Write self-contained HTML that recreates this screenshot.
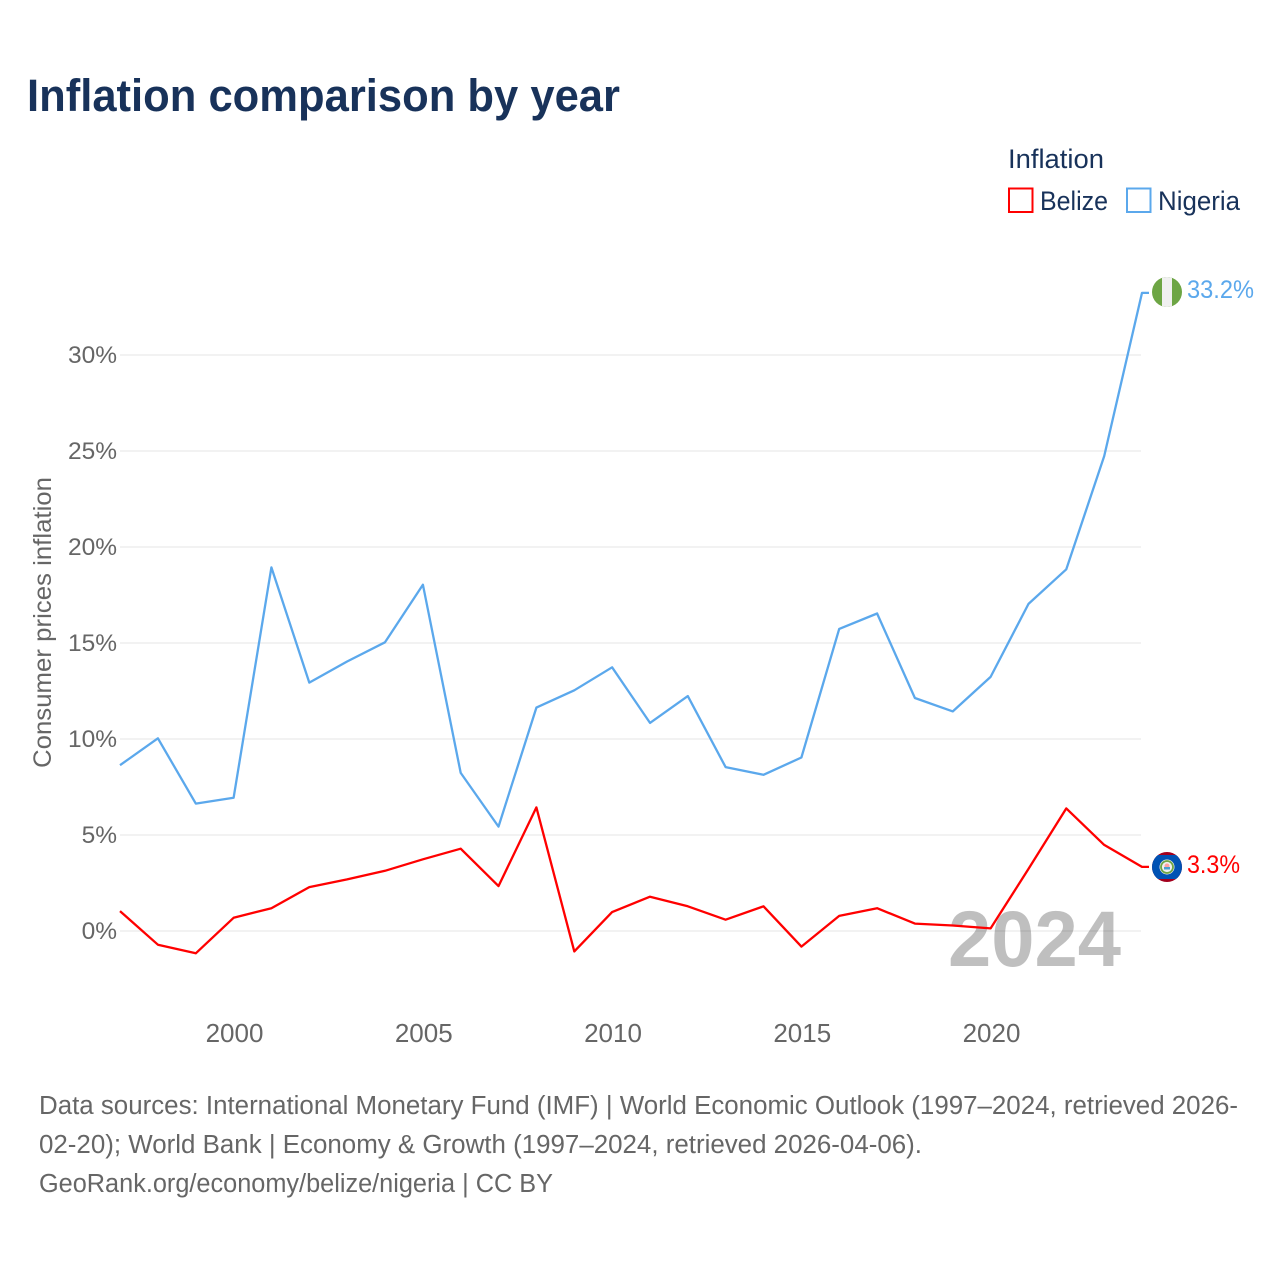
<!DOCTYPE html>
<html lang="en">
<head>
<meta charset="utf-8">
<title>Inflation comparison by year</title>
<style>
html,body{margin:0;padding:0;background:#fff;}
svg{display:block;font-family:"Liberation Sans",sans-serif;}
</style>
</head>
<body>
<svg id="chart" width="1280" height="1280" viewBox="0 0 1280 1280" xmlns="http://www.w3.org/2000/svg">
  <defs>
    <clipPath id="clip-ng"><circle cx="1167" cy="292" r="15"/></clipPath>
    <clipPath id="clip-bz"><circle cx="1167" cy="867" r="15"/></clipPath>
  </defs>
  <rect width="1280" height="1280" fill="#fff"/>
  <text x="27" y="111" font-size="45" font-weight="700" fill="#18325a" textLength="593" lengthAdjust="spacingAndGlyphs">Inflation comparison by year</text>

  <g font-size="27" fill="#18325a">
    <text x="1008" y="168" textLength="96" lengthAdjust="spacingAndGlyphs">Inflation</text>
    <rect x="1009" y="188.5" width="23.5" height="23.5" fill="#fff" stroke="#ff0000" stroke-width="2"/>
    <text x="1040" y="210" textLength="68" lengthAdjust="spacingAndGlyphs">Belize</text>
    <rect x="1127" y="188.5" width="23.5" height="23.5" fill="#fff" stroke="#5ba8ec" stroke-width="2"/>
    <text x="1158" y="210" textLength="82" lengthAdjust="spacingAndGlyphs">Nigeria</text>
  </g>

  <text transform="translate(51,768) rotate(-90)" x="0" y="0" font-size="25" fill="#666" textLength="291" lengthAdjust="spacingAndGlyphs">Consumer prices inflation</text>

  <g id="grid"></g>
  <g id="y-ticks"></g>
  <g id="x-ticks"></g>

  <text x="948" y="966" font-size="79" font-weight="700" fill="#000" fill-opacity="0.25" textLength="173" lengthAdjust="spacingAndGlyphs">2024</text>

  <g id="series"></g>

  <g clip-path="url(#clip-ng)">
    <rect x="1150" y="275" width="34" height="34" fill="#6da544"/>
    <rect x="1162" y="275" width="10" height="34" fill="#f0f0f0"/>
  </g>
  <text id="label-nigeria" x="1187" y="298" font-size="25" fill="#5ba8ec" textLength="67" lengthAdjust="spacingAndGlyphs"></text>

  <g clip-path="url(#clip-bz)">
    <rect x="1150" y="850" width="34" height="34" fill="#a2001d"/>
    <rect x="1150" y="855" width="34" height="24" fill="#0052b4"/>
    <circle cx="1167" cy="867" r="7.5" fill="#f0f0f0"/>
    <circle cx="1167" cy="867" r="6" fill="none" stroke="#6da544" stroke-width="1.8"/>
    <circle cx="1167" cy="866" r="2.5" fill="#ffa0a0"/>
    <rect x="1164" y="867" width="6" height="2.5" fill="#4aa0d0"/>
  </g>
  <text id="label-belize" x="1187" y="873" font-size="25" fill="#ff0000" textLength="53" lengthAdjust="spacingAndGlyphs"></text>

  <g font-size="25.5" fill="#666">
    <text x="39" y="1114" textLength="1199" lengthAdjust="spacingAndGlyphs">Data sources: International Monetary Fund (IMF) | World Economic Outlook (1997–2024, retrieved 2026-</text>
    <text x="39" y="1153" textLength="883" lengthAdjust="spacingAndGlyphs">02-20); World Bank | Economy &amp; Growth (1997–2024, retrieved 2026-04-06).</text>
    <text x="39" y="1192" textLength="514" lengthAdjust="spacingAndGlyphs">GeoRank.org/economy/belize/nigeria | CC BY</text>
  </g>
</svg>
<script>
const years = [1997,1998,1999,2000,2001,2002,2003,2004,2005,2006,2007,2008,2009,2010,2011,2012,2013,2014,2015,2016,2017,2018,2019,2020,2021,2022,2023,2024];
const nigeriaValues = [8.6,10.0,6.6,6.9,18.9,12.9,14.0,15.0,18.0,8.2,5.4,11.6,12.5,13.7,10.8,12.2,8.5,8.1,9.0,15.7,16.5,12.1,11.4,13.2,17.0,18.8,24.7,33.2];
const belizeValues = [1.0,-0.75,-1.2,0.65,1.15,2.25,2.65,3.1,3.7,4.25,2.3,6.4,-1.1,0.95,1.75,1.25,0.55,1.25,-0.85,0.75,1.15,0.35,0.25,0.1,3.2,6.35,4.45,3.3];
const yTickValues = [0,5,10,15,20,25,30];
const xTickValues = [2000,2005,2010,2015,2020];

const NS = 'http://www.w3.org/2000/svg';
function xScale(year){ return 233.6 + (year - 2000) * 37.85; }
function yScale(v){ return 930.3 - v * 19.2; }
function make(tag, parent){
  const el = document.createElementNS(NS, tag);
  parent.appendChild(el);
  return el;
}

const gridGroup = document.getElementById('grid');
const yGroup = document.getElementById('y-ticks');
yTickValues.forEach(function(v){
  const line = make('line', gridGroup);
  
  
  line.setAttribute('x1', 120);
  line.setAttribute('x2', 1141);
  line.setAttribute('y1', yScale(v) + 0.7);
  line.setAttribute('y2', yScale(v) + 0.7);
  line.setAttribute('stroke', '#eeeeee');
  line.setAttribute('stroke-width', 1.5);
  const t = make('text', yGroup);
  
  
  t.setAttribute('x', 117);
  t.setAttribute('y', yScale(v) + 8.7);
  t.setAttribute('text-anchor', 'end');
  t.setAttribute('font-size', 24.5);
  t.setAttribute('fill', '#666');
  t.textContent = v + '%';
});

const xGroup = document.getElementById('x-ticks');
xTickValues.forEach(function(year){
  const t = make('text', xGroup);
  
  
  t.setAttribute('x', xScale(year) + 0.9);
  t.setAttribute('y', 1042);
  t.setAttribute('text-anchor', 'middle');
  t.setAttribute('font-size', 26);
  t.setAttribute('fill', '#666');
  t.textContent = year;
});

const seriesGroup = document.getElementById('series');
function drawSeries(values, color, name){
  const pts = values.map(function(v, i){ return xScale(years[i]).toFixed(1) + ',' + yScale(v).toFixed(1); });
  const lastY = yScale(values[values.length - 1]).toFixed(1);
  const lastX = xScale(years[years.length - 1]);
  pts.push((lastX + 7).toFixed(1) + ',' + lastY);
  const line = make('polyline', seriesGroup);
  
  
  line.setAttribute('points', pts.join(' '));
  line.setAttribute('fill', 'none');
  line.setAttribute('stroke', color);
  line.setAttribute('stroke-width', 2.3);
  line.setAttribute('stroke-linejoin', 'round');
}
drawSeries(nigeriaValues, '#5ba8ec', 'nigeria');
drawSeries(belizeValues, '#ff0000', 'belize');

document.getElementById('label-nigeria').textContent = nigeriaValues[nigeriaValues.length - 1].toFixed(1) + '%';
document.getElementById('label-belize').textContent = belizeValues[belizeValues.length - 1].toFixed(1) + '%';
</script>
</body>
</html>
